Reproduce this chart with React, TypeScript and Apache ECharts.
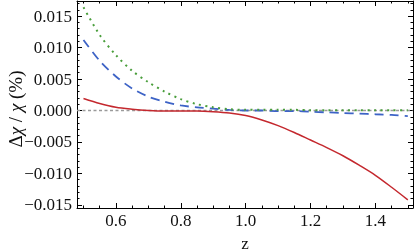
import React, { useEffect, useRef } from "react";
import * as echarts from "echarts";

const zValues = [0.5, 0.55, 0.6, 0.65, 0.7, 0.75, 0.8, 0.85, 0.9, 0.95, 1.0, 1.05, 1.1, 1.15, 1.2, 1.25, 1.3, 1.35, 1.4, 1.45, 1.5];
const redSolid = [0.0019, 0.0011, 0.0005, 0.0002, 0.0, -0.0001, -0.0001, -0.0001, -0.0002, -0.0004, -0.0008, -0.0015, -0.0024, -0.0035, -0.0047, -0.0059, -0.0072, -0.0087, -0.0103, -0.0122, -0.0142];
const blueDashed = [0.0112, 0.0079, 0.0054, 0.0035, 0.0022, 0.0014, 0.0008, 0.0005, 0.0003, 0.0001, 0.0, 0.0, -0.0001, -0.0001, -0.0002, -0.0003, -0.0004, -0.0005, -0.0006, -0.0007, -0.0009];
const greenDotted = [0.0164, 0.012, 0.0088, 0.0063, 0.0045, 0.003, 0.0018, 0.001, 0.0005, 0.0002, 0.0001, 0.0001, 0.0001, 0.0001, 0.00005, 0.00005, 0.00005, 0.00005, 0.00005, 0.00005, 0.00005];
const xRange = [0.48, 1.516];
const yRange = [-0.0155, 0.0174];

const FONT = "Liberation Serif";

function fmtY(v: number): string {
  const s = Math.abs(v).toFixed(3);
  return v < -1e-9 ? "\u2212" + s : s;
}

export default function App() {
  const ref = useRef<HTMLDivElement>(null);
  useEffect(() => {
    if (!ref.current) return;
    const chart = echarts.init(ref.current, undefined, { renderer: "svg" });
    const pair = (ys: number[]) => zValues.map((z, i) => [z, ys[i]]);
    const tickCommon = {
      axisTick: { show: true, inside: true, length: 5, lineStyle: { color: "#000", width: 1 } },
      minorTick: { show: true, length: 2.5, lineStyle: { color: "#000", width: 1 } },
      axisLine: { show: true, onZero: false, lineStyle: { color: "#000", width: 1 } },
      splitLine: { show: false },
      minorSplitLine: { show: false },
    };
    chart.setOption({
      animation: false,
      grid: { left: 77, right: 2, top: 1, bottom: 44, show: false },
      xAxis: [
        {
          type: "value",
          min: xRange[0],
          max: xRange[1],
          splitNumber: 5,
          position: "bottom",
          ...tickCommon,
          minorTick: { ...tickCommon.minorTick, splitNumber: 4 },
          axisLabel: {
            show: true,
            fontFamily: FONT,
            fontSize: 17,
            color: "#111",
            margin: 4,
            showMinLabel: false,
            showMaxLabel: false,
            formatter: (v: number) => v.toFixed(1),
          },
        },
        {
          type: "value",
          min: xRange[0],
          max: xRange[1],
          splitNumber: 5,
          position: "top",
          ...tickCommon,
          minorTick: { ...tickCommon.minorTick, splitNumber: 4 },
          axisLabel: { show: false },
        },
      ],
      yAxis: [
        {
          type: "value",
          min: yRange[0],
          max: yRange[1],
          splitNumber: 6,
          position: "left",
          ...tickCommon,
          minorTick: { ...tickCommon.minorTick, splitNumber: 5 },
          axisLabel: {
            show: true,
            fontFamily: FONT,
            fontSize: 17,
            color: "#111",
            margin: 5,
            showMinLabel: false,
            showMaxLabel: false,
            formatter: fmtY,
          },
        },
        {
          type: "value",
          min: yRange[0],
          max: yRange[1],
          splitNumber: 6,
          position: "right",
          ...tickCommon,
          minorTick: { ...tickCommon.minorTick, splitNumber: 5 },
          axisLabel: { show: false },
        },
      ],
      series: [
        {
          type: "line",
          data: [[xRange[0], 0], [xRange[1], 0]],
          showSymbol: false,
          silent: true,
          lineStyle: { color: "#9a9a9a", width: 1.5, type: [3, 2.5] },
        },
        {
          type: "line",
          data: pair(redSolid),
          smooth: 0.3,
          showSymbol: false,
          lineStyle: { color: "#c4282e", width: 1.5 },
        },
        {
          type: "line",
          data: pair(blueDashed),
          smooth: 0.3,
          showSymbol: false,
          lineStyle: { color: "#3d63c6", width: 1.8, type: [9, 6] },
        },
        {
          type: "line",
          data: pair(greenDotted),
          smooth: 0.3,
          showSymbol: false,
          lineStyle: { color: "#4a9e3c", width: 2, type: [2, 4.5] },
        },
      ],
      graphic: [
        {
          type: "text",
          x: 15,
          y: 109,
          rotation: Math.PI / 2,
          style: {
            text: "{a|\u0394}{i|\u03c7}{a| / }{i|\u03c7}{a| (%)}",
            align: "center",
            verticalAlign: "middle",
            fontFamily: FONT,
            fontSize: 19,
            fill: "#111",
            rich: {
              a: { fontFamily: FONT, fontSize: 19, fill: "#111" },
              i: { fontFamily: FONT, fontSize: 19, fontStyle: "italic", fill: "#111" },
            },
          },
        },
        {
          type: "text",
          x: 245,
          y: 243,
          style: {
            text: "z",
            align: "center",
            verticalAlign: "middle",
            fontFamily: FONT,
            fontSize: 17,
            fill: "#111",
          },
        },
      ],
    });
    return () => chart.dispose();
  }, []);
  return <div ref={ref} style={{ position: "fixed", left: 0, top: 0, width: 415, height: 252 }} />;
}
